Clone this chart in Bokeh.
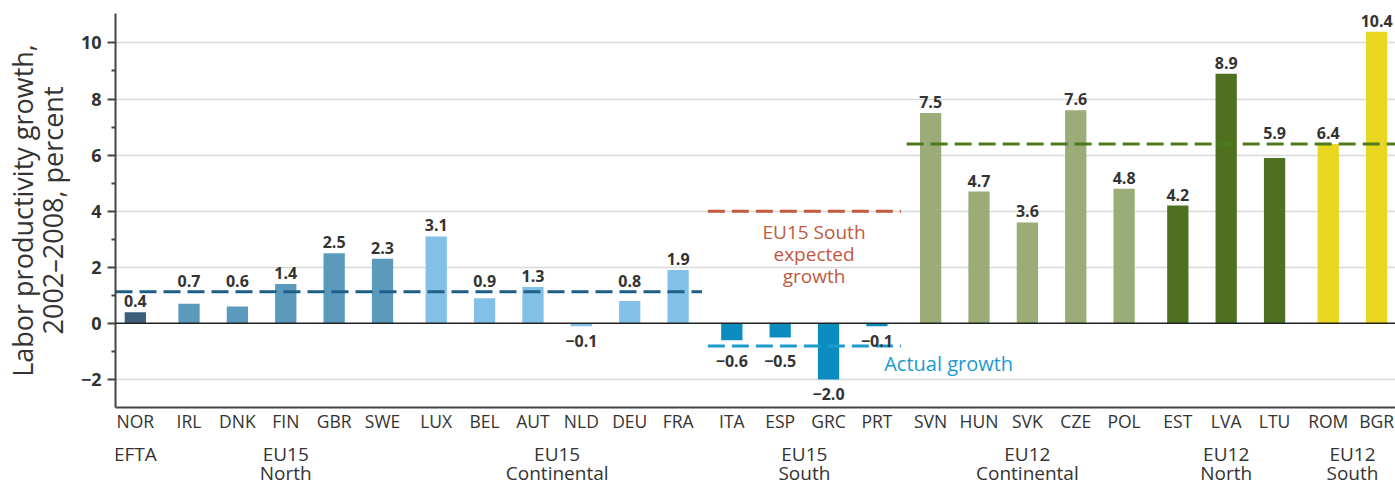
from bokeh.plotting import figure
from bokeh.layouts import column
from bokeh.models import Range1d, FixedTicker, Span, ColumnDataSource
from bokeh.core.properties import value
from bokeh.embed import file_html
from bokeh.resources import INLINE

# ---------------- data ----------------
countries = ["NOR", "IRL", "DNK", "FIN", "GBR", "SWE",
             "LUX", "BEL", "AUT", "NLD", "DEU", "FRA",
             "ITA", "ESP", "GRC", "PRT",
             "SVN", "HUN", "SVK", "CZE", "POL",
             "EST", "LVA", "LTU", "ROM", "BGR"]
values = [0.4, 0.7, 0.6, 1.4, 2.5, 2.3,
          3.1, 0.9, 1.3, -0.1, 0.8, 1.9,
          -0.6, -0.5, -2.0, -0.1,
          7.5, 4.7, 3.6, 7.6, 4.8,
          4.2, 8.9, 5.9, 6.4, 10.4]

group_line1 = ["EFTA", "EU15", "EU15", "EU15", "EU12", "EU12", "EU12"]
group_line2 = ["", "North", "Continental", "South", "Continental", "North", "South"]
group_sizes = [1, 5, 6, 4, 5, 3, 2]
group_colors = ["#3e5f7c", "#5b9abd", "#83c0e8", "#0b8cbf",
                "#9aad78", "#4e7020", "#e8d621"]

# reference (dashed) lines
line_levels = [1.13, 4.0, -0.81, 6.4]
line_first_group = [0, 3, 3, 4]
line_last_group = [2, 3, 3, 6]
line_colors = ["#1d5f87", "#c45b3f", "#1a9bd0", "#4e7a1e"]
# which line the value labels of each group keep clear of
group_label_line = [0, 0, 0, 2, 3, 3, 3]

annot_expected = "EU15 South\nexpected\ngrowth"
annot_actual = "Actual growth"
y_title = "Labor productivity growth,\n2002\u20132008, percent"

# ---------------- layout helpers ----------------
FONT = "Open Sans"
TXT = "#333333"
GAP = 0.11
BAR_W = 0.44
W = 1395

pos, gidx = [], []
i = 0
for g, n in enumerate(group_sizes):
    for _ in range(n):
        pos.append(i + GAP * g)
        gidx.append(g)
        i += 1

colors = [group_colors[g] for g in gidx]
starts = {}
ends = {}
for x, g in zip(pos, gidx):
    starts.setdefault(g, x)
    ends[g] = x
group_centers = [(starts[g] + ends[g]) / 2 for g in range(len(group_sizes))]

x0 = pos[0] - 0.41
x1 = pos[-1] + 0.39
xr = Range1d(x0, x1)

p = figure(width=W, height=437,
           x_range=xr, y_range=Range1d(-3, 11.05),
           output_backend="svg", toolbar_location=None,
           min_border_left=114, min_border_right=0,
           min_border_top=13, min_border_bottom=30)
p.outline_line_color = None
p.background_fill_color = "white"
p.border_fill_color = "white"

# grid
p.xgrid.grid_line_color = None
p.ygrid.grid_line_color = "#d9d9d9"
p.ygrid.grid_line_width = 1.5
p.ygrid.ticker = FixedTicker(ticks=[-2, 2, 4, 6, 8, 10])

# y axis
p.yaxis.ticker = FixedTicker(ticks=[-2, 0, 2, 4, 6, 8, 10],
                             minor_ticks=[-1, 1, 3, 5, 7, 9])
p.yaxis.major_label_overrides = {-2: "\u22122"}
p.yaxis.axis_line_color = "#444444"
p.yaxis.axis_line_width = 2
p.yaxis.major_tick_line_color = "#444444"
p.yaxis.major_tick_line_width = 2
p.yaxis.major_tick_in = 0
p.yaxis.major_tick_out = 8
p.yaxis.minor_tick_line_color = "#444444"
p.yaxis.minor_tick_line_width = 2
p.yaxis.minor_tick_in = 0
p.yaxis.minor_tick_out = 4
p.yaxis.major_label_standoff = 6
p.yaxis.major_label_text_font = FONT
p.yaxis.major_label_text_font_size = "18px"
p.yaxis.major_label_text_font_style = "bold"
p.yaxis.major_label_text_color = TXT
p.yaxis.axis_label = y_title
p.yaxis.axis_label_text_font = FONT
p.yaxis.axis_label_text_font_size = "27px"
p.yaxis.axis_label_text_font_style = "normal"
p.yaxis.axis_label_text_color = TXT
p.yaxis.axis_label_text_line_height = 0.82
p.yaxis.axis_label_standoff = 7

# x axis
p.xaxis.ticker = FixedTicker(ticks=pos)
p.xaxis.major_label_overrides = {x: c for x, c in zip(pos, countries)}
p.xaxis.axis_line_color = "#444444"
p.xaxis.axis_line_width = 2
p.xaxis.major_tick_line_color = None
p.xaxis.minor_tick_line_color = None
p.xaxis.major_tick_in = 0
p.xaxis.major_tick_out = 0
p.xaxis.major_label_standoff = 1
p.xaxis.major_label_text_font = FONT
p.xaxis.major_label_text_font_size = "17.5px"
p.xaxis.major_label_text_color = TXT

# bars
src = ColumnDataSource(dict(x=pos, top=values, color=colors))
p.vbar(x="x", top="top", bottom=0, width=BAR_W, fill_color="color",
       line_color=None, source=src)

# zero line
p.add_layout(Span(location=0, dimension="width", line_color="#222222",
                  line_width=1.5))

# dashed reference lines
for lvl, g0, g1, col in zip(line_levels, line_first_group, line_last_group, line_colors):
    xs = x0 if g0 == 0 else starts[g0] - 0.5 - GAP / 2 + 0.06
    xe = x1 if g1 == len(group_sizes) - 1 else ends[g1] + 0.5 + GAP / 2 - 0.06
    p.line([xs, xe], [lvl, lvl], line_color=col, line_width=3, line_dash="17 7")

# value labels (kept clear of the group's dashed line)
pos_x, pos_y, pos_t, neg_x, neg_y, neg_t = [], [], [], [], [], []
for x, v, g in zip(pos, values, gidx):
    L = line_levels[group_label_line[g]]
    txt = f"{v:.1f}".replace("-", "\u2212")
    if v >= 0:
        anchor = L if (v < L and L - v < 0.6) else v
        pos_x.append(x); pos_y.append(anchor); pos_t.append(txt)
    else:
        anchor = L if (v > L and v - L < 0.6) else v
        neg_x.append(x); neg_y.append(anchor); neg_t.append(txt)

p.text(x=pos_x, y=pos_y, text=pos_t, text_align="center",
       text_baseline="alphabetic", y_offset=-11,
       text_font=value(FONT), text_font_size="16px",
       text_font_style="bold", text_color=TXT)
p.text(x=neg_x, y=neg_y, text=neg_t, text_align="center",
       text_baseline="alphabetic", y_offset=15,
       text_font=value(FONT), text_font_size="16px",
       text_font_style="bold", text_color=TXT)

# annotations
p.text(x=[group_centers[3] + 0.2], y=[line_levels[1]], text=[annot_expected],
       text_align="center", text_baseline="top", y_offset=8,
       text_font=value(FONT), text_font_size="19px",
       text_line_height=0.85, text_color="#c0583f")
p.text(x=[ends[3] + 0.15], y=[line_levels[2]], text=[annot_actual],
       text_align="left", text_baseline="middle", y_offset=17,
       text_font=value(FONT), text_font_size="20px",
       text_color=line_colors[2])

# group labels strip below the axis (shares the x scale)
g = figure(width=W, height=47, x_range=xr, y_range=Range1d(0, 47),
           output_backend="svg", toolbar_location=None,
           x_axis_type=None, y_axis_type=None,
           min_border_left=114, min_border_right=0,
           min_border_top=0, min_border_bottom=0)
g.outline_line_color = None
g.xgrid.grid_line_color = None
g.ygrid.grid_line_color = None
g.text(x=group_centers, y=[31] * len(group_centers), text=group_line1,
       text_align="center", text_baseline="middle",
       text_font=value(FONT), text_font_size="19px", text_color=TXT)
g.text(x=group_centers, y=[12] * len(group_centers), text=group_line2,
       text_align="center", text_baseline="middle",
       text_font=value(FONT), text_font_size="19px", text_color=TXT)

layout = column(p, g, spacing=0)
open("out.html", "w").write(file_html(layout, INLINE))
